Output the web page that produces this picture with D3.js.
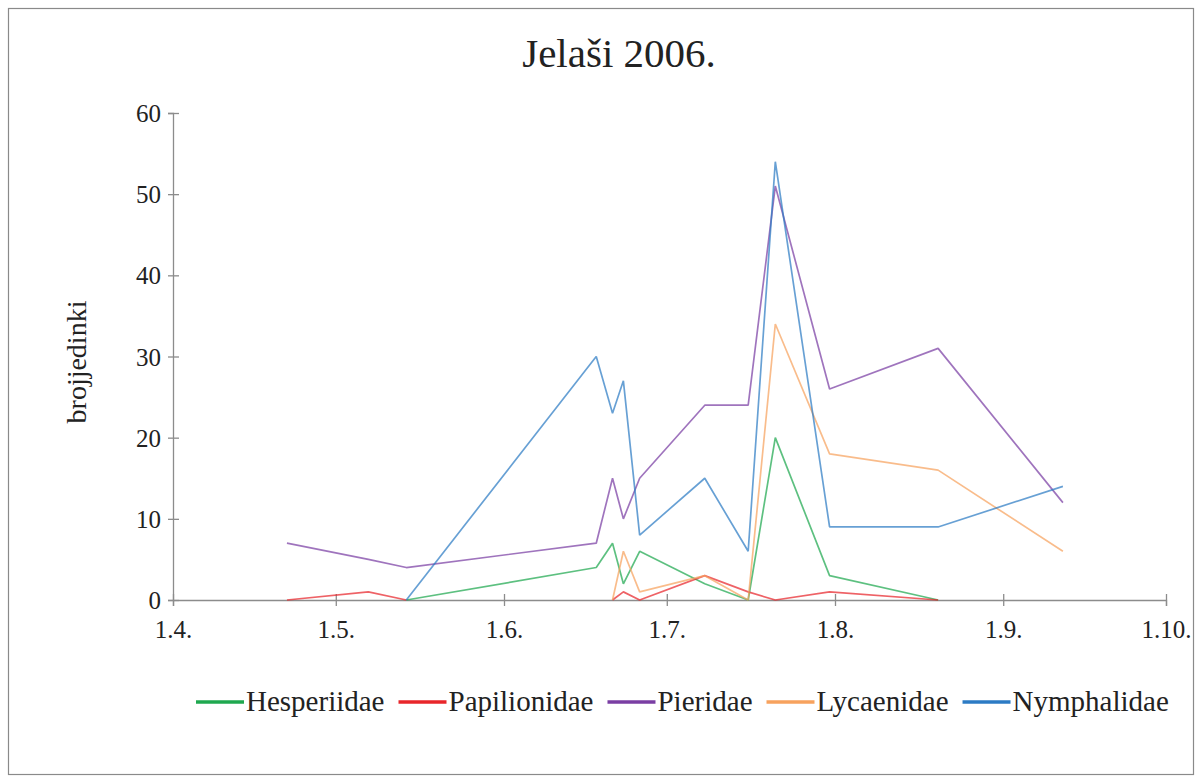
<!DOCTYPE html>
<html>
<head>
<meta charset="utf-8">
<script src="https://cdn.jsdelivr.net/npm/d3@7"></script>
<style>
  html, body { margin: 0; padding: 0; background: #fff; }
  svg { display: block; }
  svg text { font-family: "Liberation Serif", "Times New Roman", "DejaVu Serif", serif; }
</style>
</head>
<body>
<div id="chart"></div>
<script>
// Jelaši 2006. - broj jedinki po porodici kroz sezonu

const chartTitle = 'Jelaši 2006.';
const yTitle = 'brojjedinki';
const serifFont = '"Liberation Serif", "Times New Roman", "DejaVu Serif", serif';

// datumi uzorkovanja
const dates = ['2006-04-22', '2006-05-07', '2006-05-14', '2006-06-18', '2006-06-21', '2006-06-23',
    '2006-06-26', '2006-07-08', '2006-07-16', '2006-07-21', '2006-07-31', '2006-08-20', '2006-09-12'];

const families = ['Hesperiidae', 'Papilionidae', 'Pieridae', 'Lycaenidae', 'Nymphalidae'];

// vrijednosti po porodici (null = nema podatka)
const hesperiidae = [null, null, 0, 4, 7, 2, 6, 2, 0, 20, 3, 0, null];
const papilionidae = [0, 1, 0, null, 0, 1, 0, 3, 1, 0, 1, 0, null];
const pieridae = [7, 5, 4, 7, 15, 10, 15, 24, 24, 51, 26, 31, 12];
const lycaenidae = [null, null, null, null, 0, 6, 1, 3, 0, 34, 18, 16, 6];
const nymphalidae = [null, null, 0, 30, 23, 27, 8, 15, 6, 54, 9, 9, 14];

const yTicks = [0, 10, 20, 30, 40, 50, 60];
const xDomain = ['2006-04-01', '2006-10-01'];

const colors = ['#1fa84f', '#e8262b', '#7a3ea3', '#f7a25e', '#2c7bc4'];

const width = 1202;
const height = 782;
const plot = { left: 173, right: 1166, top: 113, bottom: 600 };

const parse = d3.timeParse('%Y-%m-%d');
const seriesValues = [hesperiidae, papilionidae, pieridae, lycaenidae, nymphalidae];
const series = families.map((name, i) => ({
    name,
    color: colors[i],
    points: dates.map((d, j) => ({ date: parse(d), value: seriesValues[i][j] }))
}));

const svg = d3.select('#chart')
    .append('svg')
    .attr('width', width)
    .attr('height', height);

// okvir grafikona
svg.append('rect')
    .attr('x', 8.5)
    .attr('y', 8.5)
    .attr('width', 1185)
    .attr('height', 766)
    .attr('fill', '#fff')
    .attr('stroke', '#8a8a8a')
    .attr('stroke-width', 1.2);

const x = d3.scaleTime()
    .domain(xDomain.map(parse))
    .range([plot.left, plot.right]);

const y = d3.scaleLinear()
    .domain([0, 60])
    .range([plot.bottom, plot.top]);

// osi
const yAxis = svg.append('g')
    .attr('transform', `translate(${plot.left},0)`)
    .call(d3.axisLeft(y).tickValues(yTicks).tickSize(5).tickPadding(7));

const xAxis = svg.append('g')
    .attr('transform', `translate(0,${plot.bottom})`)
    .call(d3.axisBottom(x).ticks(d3.timeMonth.every(1)).tickFormat(d3.timeFormat('%-d.%-m.')).tickSize(6).tickPadding(14));

[yAxis, xAxis].forEach(g => {
    g.attr('font-family', serifFont);
    g.select('.domain').attr('stroke', '#8c8c8c').attr('stroke-width', 1.3);
    g.selectAll('.tick line').attr('stroke', '#8c8c8c').attr('stroke-width', 1.3);
    g.selectAll('.tick text')
        .attr('fill', '#222')
        .attr('font-size', '25px')
        .attr('font-family', serifFont);
});
// crtice prelaze preko osi
yAxis.selectAll('.tick line').attr('x1', 6);
xAxis.selectAll('.tick line').attr('y1', -6);
yAxis.selectAll('.tick text').attr('dy', '0.34em');

// linije
const line = d3.line()
    .defined(d => d.value !== null)
    .x(d => x(d.date))
    .y(d => y(d.value));

svg.append('g')
    .selectAll('path')
    .data(series)
    .enter()
    .append('path')
    .attr('d', d => line(d.points))
    .attr('fill', 'none')
    .attr('stroke', d => d.color)
    .attr('stroke-opacity', 0.72)
    .attr('stroke-width', 1.7)
    .attr('stroke-linejoin', 'bevel');

// naslov
svg.append('text')
    .attr('x', 619)
    .attr('y', 67)
    .attr('text-anchor', 'middle')
    .attr('font-family', serifFont)
    .attr('font-size', '41px')
    .attr('fill', '#222')
    .text(chartTitle);

svg.append('text')
    .attr('transform', 'translate(86,362) rotate(-90)')
    .attr('text-anchor', 'middle')
    .attr('font-family', serifFont)
    .attr('font-size', '28px')
    .attr('fill', '#222')
    .text(yTitle);

// legenda
const legend = svg.append('g').attr('transform', 'translate(196,702)');
let lx = 0;
series.forEach(s => {
    const item = legend.append('g').attr('transform', `translate(${lx},0)`);
    item.append('line')
        .attr('x1', 0).attr('x2', 48)
        .attr('y1', 0).attr('y2', 0)
        .attr('stroke', s.color)
        .attr('stroke-width', 3.5);
    const t = item.append('text')
        .attr('x', 50)
        .attr('y', 9)
        .attr('font-family', serifFont)
        .attr('font-size', '29px')
        .attr('fill', '#222')
        .text(s.name);
    lx += 50 + t.node().getComputedTextLength() + 14;
});
</script>
</body>
</html>
